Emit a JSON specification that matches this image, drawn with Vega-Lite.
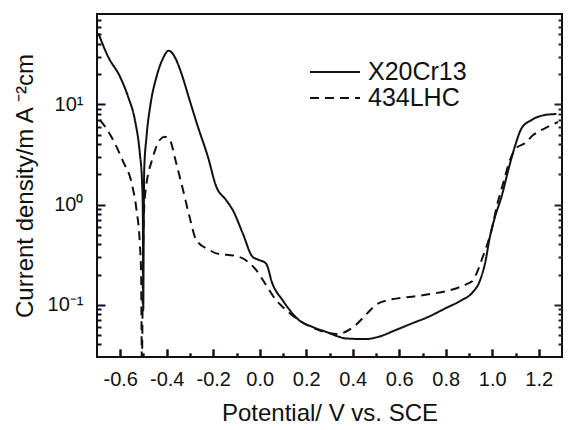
{
  "$schema": "https://vega.github.io/schema/vega-lite/v6.json",
  "width": 465,
  "height": 343,
  "autosize": "none",
  "padding": {"left": 97, "top": 14, "right": 6, "bottom": 73},
  "background": "white",
  "config": {
    "view": {"stroke": "#111", "strokeWidth": 2},
    "font": "Liberation Sans"
  },
  "datasets": {
    "d": [
      {"s": "X20Cr13", "k": 1, "v": -0.694, "i": 51.3},
      {"s": "X20Cr13", "k": 2, "v": -0.652, "i": 29.9},
      {"s": "X20Cr13", "k": 3, "v": -0.601, "i": 18.9},
      {"s": "X20Cr13", "k": 4, "v": -0.566, "i": 11.9},
      {"s": "X20Cr13", "k": 5, "v": -0.537, "i": 6.98},
      {"s": "X20Cr13", "k": 6, "v": -0.516, "i": 3.27},
      {"s": "X20Cr13", "k": 7, "v": -0.506, "i": 1.64},
      {"s": "X20Cr13", "k": 8, "v": -0.503, "i": 0.88},
      {"s": "X20Cr13", "k": 9, "v": -0.501, "i": 0.088},
      {"s": "X20Cr13", "k": 10, "v": -0.499, "i": 0.6},
      {"s": "X20Cr13", "k": 11, "v": -0.497, "i": 2.21},
      {"s": "X20Cr13", "k": 12, "v": -0.487, "i": 4.75},
      {"s": "X20Cr13", "k": 13, "v": -0.469, "i": 10.3},
      {"s": "X20Cr13", "k": 14, "v": -0.444, "i": 18.9},
      {"s": "X20Cr13", "k": 15, "v": -0.416, "i": 28.9},
      {"s": "X20Cr13", "k": 16, "v": -0.392, "i": 34.4},
      {"s": "X20Cr13", "k": 17, "v": -0.366, "i": 29.9},
      {"s": "X20Cr13", "k": 18, "v": -0.337, "i": 20.4},
      {"s": "X20Cr13", "k": 19, "v": -0.302, "i": 11.1},
      {"s": "X20Cr13", "k": 20, "v": -0.266, "i": 5.98},
      {"s": "X20Cr13", "k": 21, "v": -0.223, "i": 3.0},
      {"s": "X20Cr13", "k": 22, "v": -0.187, "i": 1.51},
      {"s": "X20Cr13", "k": 23, "v": -0.145, "i": 1.11},
      {"s": "X20Cr13", "k": 24, "v": -0.116, "i": 0.88},
      {"s": "X20Cr13", "k": 25, "v": -0.073, "i": 0.515},
      {"s": "X20Cr13", "k": 26, "v": -0.031, "i": 0.301},
      {"s": "X20Cr13", "k": 27, "v": -0.002, "i": 0.279},
      {"s": "X20Cr13", "k": 28, "v": 0.027, "i": 0.258},
      {"s": "X20Cr13", "k": 29, "v": 0.054, "i": 0.163},
      {"s": "X20Cr13", "k": 30, "v": 0.098, "i": 0.111},
      {"s": "X20Cr13", "k": 31, "v": 0.169, "i": 0.07},
      {"s": "X20Cr13", "k": 32, "v": 0.226, "i": 0.06},
      {"s": "X20Cr13", "k": 33, "v": 0.284, "i": 0.0536},
      {"s": "X20Cr13", "k": 34, "v": 0.341, "i": 0.0478},
      {"s": "X20Cr13", "k": 35, "v": 0.369, "i": 0.046},
      {"s": "X20Cr13", "k": 36, "v": 0.455, "i": 0.0453},
      {"s": "X20Cr13", "k": 37, "v": 0.512, "i": 0.0478},
      {"s": "X20Cr13", "k": 38, "v": 0.584, "i": 0.0557},
      {"s": "X20Cr13", "k": 39, "v": 0.655, "i": 0.065},
      {"s": "X20Cr13", "k": 40, "v": 0.726, "i": 0.0757},
      {"s": "X20Cr13", "k": 41, "v": 0.798, "i": 0.0918},
      {"s": "X20Cr13", "k": 42, "v": 0.869, "i": 0.111},
      {"s": "X20Cr13", "k": 43, "v": 0.912, "i": 0.13},
      {"s": "X20Cr13", "k": 44, "v": 0.948, "i": 0.176},
      {"s": "X20Cr13", "k": 45, "v": 0.969, "i": 0.259},
      {"s": "X20Cr13", "k": 46, "v": 0.99, "i": 0.477},
      {"s": "X20Cr13", "k": 47, "v": 1.012, "i": 0.755},
      {"s": "X20Cr13", "k": 48, "v": 1.04, "i": 1.2},
      {"s": "X20Cr13", "k": 49, "v": 1.069, "i": 2.21},
      {"s": "X20Cr13", "k": 50, "v": 1.097, "i": 3.78},
      {"s": "X20Cr13", "k": 51, "v": 1.126, "i": 5.77},
      {"s": "X20Cr13", "k": 52, "v": 1.169, "i": 6.98},
      {"s": "X20Cr13", "k": 53, "v": 1.226, "i": 7.84},
      {"s": "X20Cr13", "k": 54, "v": 1.276, "i": 8.02},
      {"s": "434LHC", "k": 1, "v": -0.688, "i": 7.0},
      {"s": "434LHC", "k": 2, "v": -0.661, "i": 5.81},
      {"s": "434LHC", "k": 3, "v": -0.587, "i": 2.67},
      {"s": "434LHC", "k": 4, "v": -0.551, "i": 1.64},
      {"s": "434LHC", "k": 5, "v": -0.53, "i": 0.88},
      {"s": "434LHC", "k": 6, "v": -0.516, "i": 0.412},
      {"s": "434LHC", "k": 7, "v": -0.51, "i": 0.19},
      {"s": "434LHC", "k": 8, "v": -0.509, "i": 0.088},
      {"s": "434LHC", "k": 9, "v": -0.508, "i": 0.041},
      {"s": "434LHC", "k": 10, "v": -0.507, "i": 0.025},
      {"s": "434LHC", "k": 11, "v": -0.502, "i": 0.3},
      {"s": "434LHC", "k": 12, "v": -0.494, "i": 1.2},
      {"s": "434LHC", "k": 13, "v": -0.459, "i": 3.0},
      {"s": "434LHC", "k": 14, "v": -0.43, "i": 4.41},
      {"s": "434LHC", "k": 15, "v": -0.409, "i": 4.75},
      {"s": "434LHC", "k": 16, "v": -0.387, "i": 4.41},
      {"s": "434LHC", "k": 17, "v": -0.359, "i": 2.58},
      {"s": "434LHC", "k": 18, "v": -0.33, "i": 1.4},
      {"s": "434LHC", "k": 19, "v": -0.302, "i": 0.755},
      {"s": "434LHC", "k": 20, "v": -0.273, "i": 0.442},
      {"s": "434LHC", "k": 21, "v": -0.216, "i": 0.351},
      {"s": "434LHC", "k": 22, "v": -0.187, "i": 0.325},
      {"s": "434LHC", "k": 23, "v": -0.102, "i": 0.306},
      {"s": "434LHC", "k": 24, "v": -0.073, "i": 0.29},
      {"s": "434LHC", "k": 25, "v": -0.016, "i": 0.222},
      {"s": "434LHC", "k": 26, "v": 0.027, "i": 0.157},
      {"s": "434LHC", "k": 27, "v": 0.07, "i": 0.111},
      {"s": "434LHC", "k": 28, "v": 0.098, "i": 0.0953},
      {"s": "434LHC", "k": 29, "v": 0.155, "i": 0.0735},
      {"s": "434LHC", "k": 30, "v": 0.213, "i": 0.0611},
      {"s": "434LHC", "k": 31, "v": 0.298, "i": 0.052},
      {"s": "434LHC", "k": 32, "v": 0.341, "i": 0.0508},
      {"s": "434LHC", "k": 33, "v": 0.369, "i": 0.0536},
      {"s": "434LHC", "k": 34, "v": 0.404, "i": 0.06},
      {"s": "434LHC", "k": 35, "v": 0.462, "i": 0.0818},
      {"s": "434LHC", "k": 36, "v": 0.498, "i": 0.099},
      {"s": "434LHC", "k": 37, "v": 0.569, "i": 0.113},
      {"s": "434LHC", "k": 38, "v": 0.655, "i": 0.12},
      {"s": "434LHC", "k": 39, "v": 0.726, "i": 0.127},
      {"s": "434LHC", "k": 40, "v": 0.812, "i": 0.138},
      {"s": "434LHC", "k": 41, "v": 0.897, "i": 0.163},
      {"s": "434LHC", "k": 42, "v": 0.912, "i": 0.17},
      {"s": "434LHC", "k": 43, "v": 0.962, "i": 0.313},
      {"s": "434LHC", "k": 44, "v": 0.997, "i": 0.556},
      {"s": "434LHC", "k": 45, "v": 1.019, "i": 0.95},
      {"s": "434LHC", "k": 46, "v": 1.047, "i": 1.63},
      {"s": "434LHC", "k": 47, "v": 1.076, "i": 2.78},
      {"s": "434LHC", "k": 48, "v": 1.103, "i": 3.66},
      {"s": "434LHC", "k": 49, "v": 1.14, "i": 4.09},
      {"s": "434LHC", "k": 50, "v": 1.176, "i": 4.94},
      {"s": "434LHC", "k": 51, "v": 1.228, "i": 5.8},
      {"s": "434LHC", "k": 52, "v": 1.283, "i": 6.67}
    ]
  },
  "data": {"name": "d"},
  "layer": [
    {
      "mark": {"type": "line", "color": "#111", "strokeWidth": 2, "clip": true, "interpolate": "monotone"},
      "encoding": {
        "x": {"field": "v", "type": "quantitative", "scale": {"domain": [-0.7, 1.3], "nice": false, "zero": false},
          "axis": {"orient": "bottom", "grid": false, "domain": false, "ticks": true, "tickColor": "#2a0a0a", "tickWidth": 2, "tickSize": -8, "title": "Potential/ V vs. SCE", "titleFont": "Liberation Sans", "titleFontWeight": "normal", "titleColor": "#111", "titleFontSize": 24, "titlePadding": 12, "values": [-0.6, -0.4, -0.2, 0, 0.2, 0.4, 0.6, 0.8, 1.0, 1.2], "labelExpr": "(datum.value < 0 ? '-' : '') + format(abs(datum.value), '.1f')", "labelFont": "Liberation Sans", "labelColor": "#111", "labelFontSize": 20, "labelPadding": 20}},
        "y": {"field": "i", "type": "quantitative", "scale": {"type": "log", "domain": [0.03, 80], "nice": false},
          "axis": {"orient": "left", "grid": false, "domain": false, "ticks": true, "tickColor": "#0a0a2a", "tickWidth": 2, "tickSize": -8, "title": "Current density/m A ⁻²cm", "titleFont": "Liberation Sans", "titleFontWeight": "normal", "titleColor": "#111", "titleFontSize": 24, "titlePadding": 10, "values": [0.1, 1, 10], "labelExpr": "datum.value >= 10 ? '10¹' : datum.value >= 1 ? '10⁰' : '10⁻¹'", "labelFont": "Liberation Sans", "labelColor": "#111", "labelFontSize": 20, "labelPadding": 22}},
        "strokeDash": {"field": "s", "type": "nominal", "scale": {"domain": ["X20Cr13", "434LHC"], "range": [[1, 0], [9, 6]]},
          "legend": {"orient": "none", "legendX": 212, "legendY": 45, "title": null, "symbolType": "stroke", "symbolSize": 2500, "symbolStrokeWidth": 2, "symbolStrokeColor": "#111", "labelFontSize": 25, "labelFont": "Liberation Sans", "labelColor": "#111", "labelOffset": 7, "clipHeight": 26, "rowPadding": 0}},
        "order": {"field": "k", "type": "quantitative"}
      }
    },
    {
      "mark": {"type": "line", "strokeOpacity": 0},
      "encoding": {
        "x": {"field": "v", "type": "quantitative", "scale": {"domain": [-0.7, 1.3], "nice": false, "zero": false},
          "axis": {"orient": "top", "grid": true, "gridColor": "#222", "gridWidth": 2, "gridOpacity": 1, "gridDash": [8, 600], "domain": false, "ticks": false, "title": null, "labels": false, "values": [-0.6, -0.4, -0.2, 0, 0.2, 0.4, 0.6, 0.8, 1.0, 1.2]}},
        "y": {"field": "i", "type": "quantitative", "scale": {"type": "log", "domain": [0.03, 80], "nice": false},
          "axis": {"orient": "right", "grid": true, "gridColor": "#222", "gridWidth": 2, "gridOpacity": 1, "gridDash": [8, 600], "domain": false, "ticks": false, "title": null, "labels": false, "values": [0.1, 1, 10]}},
        "detail": {"field": "s"}
      }
    },
    {
      "mark": {"type": "line", "strokeOpacity": 0},
      "encoding": {
        "x": {"field": "v", "type": "quantitative", "scale": {"domain": [-0.7, 1.3], "nice": false, "zero": false},
          "axis": {"orient": "bottom", "grid": false, "domain": false, "ticks": true, "tickColor": "#2a0a0a", "tickWidth": 2, "tickSize": -4, "title": null, "labels": false, "values": [-0.5, -0.3, -0.1, 0.1, 0.3, 0.5, 0.7, 0.9, 1.1]}},
        "y": {"field": "i", "type": "quantitative", "scale": {"type": "log", "domain": [0.03, 80], "nice": false},
          "axis": {"orient": "left", "grid": false, "domain": false, "ticks": true, "tickColor": "#0a0a2a", "tickWidth": 2, "tickSize": -4, "title": null, "labels": false, "values": [0.04, 0.05, 0.06, 0.07, 0.08, 0.09, 0.2, 0.3, 0.4, 0.5, 0.6, 0.7, 0.8, 0.9, 2, 3, 4, 5, 6, 7, 8, 9, 20, 30, 40, 50, 60, 70]}},
        "detail": {"field": "s"}
      }
    },
    {
      "mark": {"type": "line", "strokeOpacity": 0},
      "encoding": {
        "x": {"field": "v", "type": "quantitative", "scale": {"domain": [-0.7, 1.3], "nice": false, "zero": false},
          "axis": {"orient": "top", "grid": true, "gridColor": "#222", "gridWidth": 2, "gridOpacity": 1, "gridDash": [4, 600], "domain": false, "ticks": false, "title": null, "labels": false, "values": [-0.5, -0.3, -0.1, 0.1, 0.3, 0.5, 0.7, 0.9, 1.1]}},
        "y": {"field": "i", "type": "quantitative", "scale": {"type": "log", "domain": [0.03, 80], "nice": false},
          "axis": {"orient": "right", "grid": true, "gridColor": "#222", "gridWidth": 2, "gridOpacity": 1, "gridDash": [4, 600], "domain": false, "ticks": false, "title": null, "labels": false, "values": [0.04, 0.05, 0.06, 0.07, 0.08, 0.09, 0.2, 0.3, 0.4, 0.5, 0.6, 0.7, 0.8, 0.9, 2, 3, 4, 5, 6, 7, 8, 9, 20, 30, 40, 50, 60, 70]}},
        "detail": {"field": "s"}
      }
    }
  ],
  "resolve": {"axis": {"x": "independent", "y": "independent"}}
}
